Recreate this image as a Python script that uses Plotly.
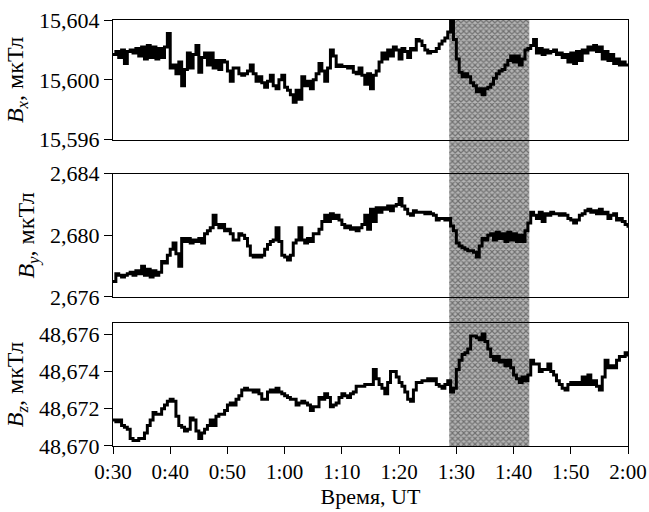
import numpy as np
import plotly.graph_objects as go

# time in minutes after 0:00 UT, sampled every 0.5 min from 0:30 to 2:00
t_min = np.arange(30, 120.5, 0.5)

bx = [15.6017, 15.6019, 15.6015, 15.6020, 15.6011, 15.6019, 15.6020, 15.6018, 15.6021, 15.6016,
      15.6022, 15.6014, 15.6023, 15.6015, 15.6022, 15.6014, 15.6021, 15.6015, 15.6022, 15.6031,
      15.6008, 15.6010, 15.6004, 15.6012, 15.5996, 15.6007, 15.6018, 15.6008, 15.6017, 15.6023,
      15.6005, 15.6015, 15.6018, 15.6010, 15.6018, 15.6008, 15.6013, 15.6007, 15.6013, 15.6012,
      15.6006, 15.5999, 15.6008, 15.6008, 15.6004, 15.6003, 15.6004, 15.6006, 15.6010, 15.6004,
      15.5999, 15.6002, 15.5998, 15.5995, 15.5999, 15.6003, 15.5996, 15.5994, 15.6000, 15.6003,
      15.5995, 15.5993, 15.5990, 15.5985, 15.5993, 15.5987, 15.6002, 15.5996, 15.5999, 15.5994,
      15.6000, 15.6004, 15.6011, 15.6006, 15.5999, 15.6008, 15.6020, 15.6016, 15.6009, 15.6010,
      15.6009, 15.6009, 15.6008, 15.6009, 15.6005, 15.6004, 15.6008, 15.6003, 15.5997, 15.6004,
      15.5994, 15.6003, 15.6006, 15.6012, 15.6018, 15.6014, 15.6020, 15.6016, 15.6022, 15.6020,
      15.6014, 15.6021, 15.6019, 15.6015, 15.6021, 15.6020, 15.6027, 15.6026, 15.6023, 15.6020,
      15.6018, 15.6019, 15.6019, 15.6021, 15.6024, 15.6026, 15.6028, 15.6032, 15.6039, 15.6027,
      15.6014, 15.6005, 15.6002, 15.6004, 15.6002, 15.5998, 15.5996, 15.5992, 15.5994, 15.5990,
      15.5994, 15.5995, 15.5997, 15.6001, 15.6004, 15.6006, 15.6007, 15.6010, 15.6013, 15.6016,
      15.6012, 15.6016, 15.6010, 15.6014, 15.6020, 15.6021, 15.6023, 15.6027, 15.6018, 15.6021,
      15.6017, 15.6020, 15.6018, 15.6019, 15.6020, 15.6017, 15.6018, 15.6015, 15.6017, 15.6012,
      15.6018, 15.6011, 15.6019, 15.6013, 15.6020, 15.6018, 15.6022, 15.6020, 15.6023, 15.6019,
      15.6022, 15.6014, 15.6019, 15.6013, 15.6017, 15.6011, 15.6014, 15.6010, 15.6012, 15.6010,
      15.6011]

by = [2.6770, 2.6775, 2.6774, 2.6773, 2.6774, 2.6775, 2.6776, 2.6774, 2.6777, 2.6775,
      2.6780, 2.6774, 2.6778, 2.6773, 2.6777, 2.6774, 2.6776, 2.6783, 2.6782, 2.6787,
      2.6791, 2.6795, 2.6788, 2.6780, 2.6798, 2.6796, 2.6798, 2.6795, 2.6797, 2.6796,
      2.6798, 2.6795, 2.6801, 2.6803, 2.6805, 2.6813, 2.6807, 2.6805, 2.6807, 2.6803,
      2.6804, 2.6801, 2.6797, 2.6797, 2.6801, 2.6800, 2.6798, 2.6793, 2.6787, 2.6786,
      2.6787, 2.6786, 2.6787, 2.6791, 2.6794, 2.6796, 2.6797, 2.6805, 2.6796, 2.6787,
      2.6786, 2.6784, 2.6787, 2.6795, 2.6797, 2.6805, 2.6797, 2.6795, 2.6798, 2.6796,
      2.6801, 2.6801, 2.6804, 2.6809, 2.6813, 2.6809, 2.6814, 2.6811, 2.6813, 2.6810,
      2.6807, 2.6805, 2.6806, 2.6804, 2.6805, 2.6803, 2.6805, 2.6807, 2.6813, 2.6804,
      2.6817, 2.6809, 2.6818, 2.6815, 2.6818, 2.6817, 2.6819, 2.6816, 2.6819, 2.6820,
      2.6824, 2.6819, 2.6817, 2.6814, 2.6813, 2.6816, 2.6815, 2.6815, 2.6815, 2.6814,
      2.6815, 2.6814, 2.6813, 2.6810, 2.6811, 2.6811, 2.6810, 2.6811, 2.6806, 2.6803,
      2.6795, 2.6793, 2.6792, 2.6791, 2.6790, 2.6790, 2.6789, 2.6786, 2.6793, 2.6798,
      2.6797, 2.6800, 2.6801, 2.6797, 2.6802, 2.6798, 2.6801, 2.6796, 2.6802, 2.6797,
      2.6801, 2.6796, 2.6800, 2.6796, 2.6803, 2.6808, 2.6815, 2.6813, 2.6811, 2.6815,
      2.6809, 2.6814, 2.6813, 2.6815, 2.6814, 2.6814, 2.6813, 2.6814, 2.6813, 2.6811,
      2.6810, 2.6808, 2.6810, 2.6813, 2.6814, 2.6816, 2.6817, 2.6815, 2.6816, 2.6814,
      2.6817, 2.6814, 2.6815, 2.6811, 2.6813, 2.6814, 2.6810, 2.6811, 2.6809, 2.6807,
      2.6805]

bz = [48.6714, 48.6713, 48.6714, 48.6711, 48.6710, 48.6709, 48.6704, 48.6703, 48.6703, 48.6704,
      48.6704, 48.6707, 48.6711, 48.6714, 48.6718, 48.6717, 48.6717, 48.6720, 48.6722, 48.6724,
      48.6725, 48.6724, 48.6716, 48.6711, 48.6710, 48.6708, 48.6709, 48.6715, 48.6714, 48.6708,
      48.6704, 48.6707, 48.6709, 48.6711, 48.6714, 48.6711, 48.6716, 48.6717, 48.6717, 48.6719,
      48.6722, 48.6723, 48.6722, 48.6725, 48.6727, 48.6730, 48.6731, 48.6730, 48.6730, 48.6729,
      48.6730, 48.6728, 48.6725, 48.6725, 48.6729, 48.6730, 48.6729, 48.6731, 48.6729, 48.6728,
      48.6727, 48.6726, 48.6725, 48.6725, 48.6722, 48.6723, 48.6724, 48.6723, 48.6722, 48.6719,
      48.6721, 48.6721, 48.6726, 48.6725, 48.6728, 48.6726, 48.6721, 48.6722, 48.6723, 48.6726,
      48.6728, 48.6727, 48.6726, 48.6728, 48.6729, 48.6732, 48.6732, 48.6732, 48.6733, 48.6733,
      48.6733, 48.6741, 48.6736, 48.6733, 48.6731, 48.6728, 48.6734, 48.6740, 48.6740, 48.6737,
      48.6734, 48.6732, 48.6729, 48.6725, 48.6724, 48.6730, 48.6734, 48.6734, 48.6735, 48.6735,
      48.6736, 48.6735, 48.6736, 48.6733, 48.6732, 48.6731, 48.6733, 48.6735, 48.6729, 48.6731,
      48.6741, 48.6746, 48.6749, 48.6750, 48.6752, 48.6759, 48.6759, 48.6758, 48.6757, 48.6760,
      48.6756, 48.6752, 48.6748, 48.6746, 48.6748, 48.6745, 48.6746, 48.6743, 48.6746, 48.6742,
      48.6738, 48.6736, 48.6734, 48.6737, 48.6735, 48.6738, 48.6746, 48.6744, 48.6744, 48.6740,
      48.6741, 48.6741, 48.6744, 48.6740, 48.6738, 48.6735, 48.6733, 48.6731, 48.6730, 48.6733,
      48.6734, 48.6733, 48.6734, 48.6733, 48.6737, 48.6733, 48.6738, 48.6733, 48.6735, 48.6732,
      48.6730, 48.6737, 48.6746, 48.6742, 48.6743, 48.6742, 48.6746, 48.6748, 48.6748, 48.6750,
      48.6748]

x_tickvals = [30, 40, 50, 60, 70, 80, 90, 100, 110, 120]
x_ticktext = ["0:30", "0:40", "0:50", "1:00", "1:10", "1:20", "1:30", "1:40", "1:50", "2:00"]

bx_tickvals = [15.596, 15.600, 15.604]
bx_ticktext = ["15,596", "15,600", "15,604"]
by_tickvals = [2.676, 2.680, 2.684]
by_ticktext = ["2,676", "2,680", "2,684"]
bz_tickvals = [48.670, 48.672, 48.674, 48.676]
bz_ticktext = ["48,670", "48,672", "48,674", "48,676"]

shade_start = 88.75   # 1:28:45 UT
shade_end = 102.75    # 1:42:45 UT

FONT = "Liberation Serif"
fig = go.Figure()

# shaded interval (own subplot spanning all panels, drawn first => underneath)
fig.add_trace(go.Scatter(
    x=[shade_start, shade_end, shade_end, shade_start, shade_start],
    y=[0, 0, 1, 1, 0], xaxis="x", yaxis="y",
    mode="lines", line=dict(width=0), fill="toself",
    fillcolor="rgba(0,0,0,0)",
    fillpattern=dict(shape="x", size=4, solidity=0.5, fgcolor="#2c2c2c", bgcolor="#b4b4b4"),
    hoverinfo="skip", showlegend=False))

line = dict(color="black", width=3, shape="hv")
fig.add_trace(go.Scatter(x=t_min, y=bz, xaxis="x2", yaxis="y2", mode="lines", line=line, showlegend=False))
fig.add_trace(go.Scatter(x=t_min, y=by, xaxis="x3", yaxis="y3", mode="lines", line=line, showlegend=False))
fig.add_trace(go.Scatter(x=t_min, y=bx, xaxis="x4", yaxis="y4", mode="lines", line=line, showlegend=False))

axcommon = dict(showline=True, linecolor="black", linewidth=1.3, mirror=True, showgrid=False,
                zeroline=False, automargin=False)
yfont = dict(family=FONT, size=22, color="black")
ytitle_font = dict(family=FONT, size=24, color="black")
xr = [30, 120]

fig.update_layout(
    width=649, height=512,
    margin=dict(l=113, r=21, t=20, b=66, autoexpand=False),
    paper_bgcolor="white", plot_bgcolor="rgba(0,0,0,0)",
    font=dict(family=FONT, size=22, color="black"),
    showlegend=False,
    xaxis=dict(domain=[0, 1], range=xr, visible=False, anchor="y", fixedrange=True),
    yaxis=dict(domain=[0, 1], range=[0, 1], visible=False, anchor="x", fixedrange=True),
    xaxis2=dict(domain=[0, 1], range=xr, anchor="y2", tickvals=x_tickvals, ticktext=x_ticktext,
                ticks="outside", ticklen=7, tickwidth=1.3, tickcolor="black",
                tickfont=dict(family=FONT, size=21, color="black"),
                title=dict(text="Время, UT", font=dict(family=FONT, size=22), standoff=5),
                **axcommon),
    yaxis2=dict(domain=[0, 0.289], range=[48.670, 48.6766], anchor="x2",
                tickvals=bz_tickvals, ticktext=bz_ticktext, tickfont=yfont,
                ticks="outside", ticklen=8, tickwidth=1.3, tickcolor="black",
                title=dict(text="<i>B<sub>z</sub></i>, мкТл", font=ytitle_font, standoff=8),
                **axcommon),
    xaxis3=dict(domain=[0, 1], range=xr, anchor="y3", showticklabels=False, ticks="", **axcommon),
    yaxis3=dict(domain=[0.350, 0.639], range=[2.676, 2.684], anchor="x3",
                tickvals=by_tickvals, ticktext=by_ticktext, tickfont=yfont,
                ticks="outside", ticklen=8, tickwidth=1.3, tickcolor="black",
                title=dict(text="<i>B<sub>y</sub></i>, мкТл", font=ytitle_font, standoff=8),
                **axcommon),
    xaxis4=dict(domain=[0, 1], range=xr, anchor="y4", showticklabels=False, ticks="", **axcommon),
    yaxis4=dict(domain=[0.719, 1.0], range=[15.596, 15.604], anchor="x4",
                tickvals=bx_tickvals, ticktext=bx_ticktext, tickfont=yfont,
                ticks="outside", ticklen=8, tickwidth=1.3, tickcolor="black",
                title=dict(text="<i>B<sub>x</sub></i>, мкТл", font=ytitle_font, standoff=8),
                **axcommon),
)

fig.write_html("out.html")
